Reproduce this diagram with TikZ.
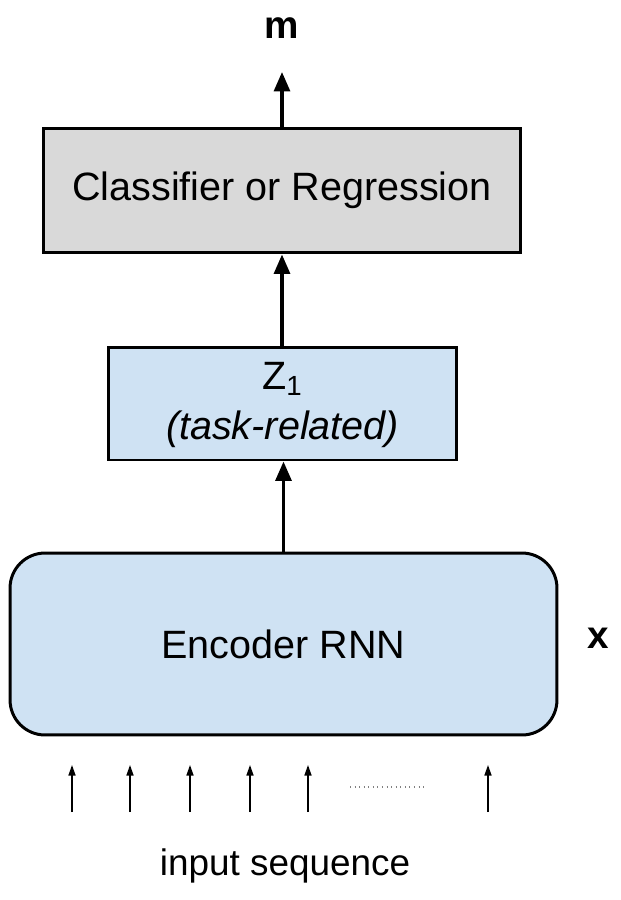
\documentclass[tikz,border=0pt]{standalone}
\usepackage{fontspec}
\setmainfont{Liberation Sans}
\usetikzlibrary{arrows.meta}

\definecolor{boxgray}{HTML}{D9D9D9}
\definecolor{boxblue}{HTML}{CFE2F3}

\tikzset{
  block/.style={draw=black, line width=1.7pt, inner sep=0pt},
  bigarrow/.style={line width=1.9pt, -{Triangle[width=9pt,length=11pt]}},
  smallarrow/.style={line width=0.8pt, -{Triangle[width=4pt,length=6pt]}},
  lbl/.style={font=\fontsize{22.5}{29}\selectfont}
}

\begin{document}
\begin{tikzpicture}[x=0.02cm,y=-0.02cm]
        \useasboundingbox (0,0) rectangle (620,900);
        \node [block, fill=boxgray, minimum width=9.54cm, minimum height=2.5cm] (cls) at (282,190.5) {};
        \node [lbl] at (cls) {Classifier or Regression};
        \node [block, fill=boxblue, minimum width=6.98cm, minimum height=2.26cm] (z) at (282.5,403.5) {};
        \node [lbl, align=center] (zlab) at (282.5,405) {Z\textsubscript{1}\\\textit{(task-related)}};
        \node [block, fill=boxblue, rounded corners=0.7cm, minimum width=10.94cm, minimum height=3.64cm] (enc) at (283.5,644) {};
        \node [lbl] at (enc) {Encoder RNN};
        \node [lbl, font=\fontsize{22}{29}\selectfont\bfseries] (m) at (282,28) {m};
        \node [lbl, font=\fontsize{22}{29}\selectfont\bfseries] (x) at (598,638) {x};
        \node [lbl, font=\fontsize{21}{29}\selectfont] (inp) at (285,866) {input sequence};
        \draw [bigarrow, shorten >=0.88cm] (cls.north) -- (m.center);
        \draw [bigarrow] (z.north -| cls.north) -- (cls.south);
        \draw [bigarrow] (enc.north) -- (enc.north |- z.south);
        \foreach \i/\xx in {1/72, 2/130, 3/190, 4/250, 5/308, 6/488} {
          \coordinate (in\i) at (\xx,812);
          \coordinate (tip\i) at (\xx,765);
          \draw [smallarrow] (in\i) -- (tip\i);
        }
        \coordinate (dotsA) at (350,787);
        \coordinate (dotsB) at (425,787);
        \draw [gray, line width=0.6pt, dotted] (dotsA) -- (dotsB);
\end{tikzpicture}
\end{document}
